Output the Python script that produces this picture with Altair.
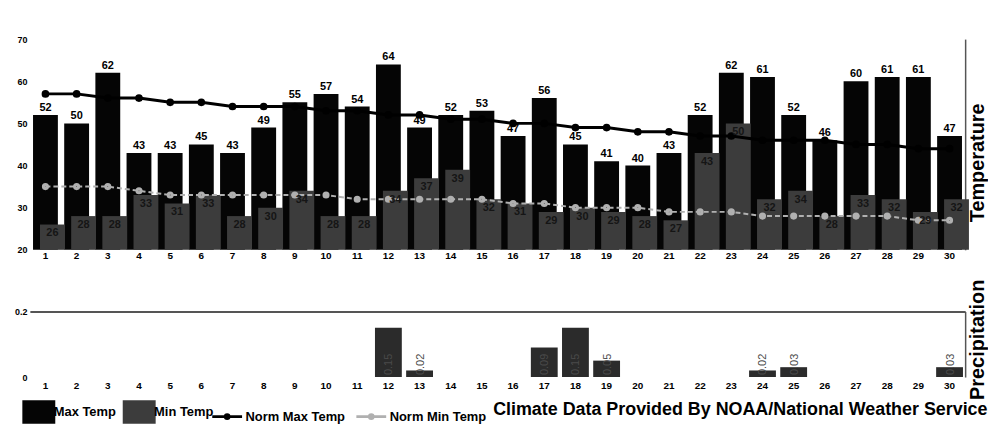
import altair as alt
import pandas as pd

days = list(range(1, 31))
max_temp = [52, 50, 62, 43, 43, 45, 43, 49, 55, 57, 54, 64, 49, 52, 53, 47, 56, 45, 41, 40,
            43, 52, 62, 61, 52, 46, 60, 61, 61, 47]
min_temp = [26, 28, 28, 33, 31, 33, 28, 30, 34, 28, 28, 34, 37, 39, 32, 31, 29, 30, 29, 28,
            27, 43, 50, 32, 34, 28, 33, 32, 29, 32]
norm_max = [57, 57, 56, 56, 55, 55, 54, 54, 54, 53, 53, 52, 52, 51, 51, 50, 50, 49, 49, 48,
            48, 47, 47, 46, 46, 46, 45, 45, 44, 44]
norm_min = [35, 35, 35, 34, 33, 33, 33, 33, 33, 33, 32, 32, 32, 32, 32, 31, 31, 30, 30, 30,
            29, 29, 29, 28, 28, 28, 28, 28, 27, 27]
precip_days = [12, 13, 17, 18, 19, 24, 25, 30]
precip_vals = [0.15, 0.02, 0.09, 0.15, 0.05, 0.02, 0.03, 0.03]

temp_ticks = [20, 30, 40, 50, 60, 70]
precip_ticks = [0, 0.2]
bar_series = ["Max Temp", "Min Temp"]
line_series = ["Norm Max Temp", "Norm Min Temp"]
credit = "Climate Data Provided By NOAA/National Weather Service"

temp_df = pd.DataFrame({"day": days, "max_temp": max_temp, "min_temp": min_temp,
                        "norm_max": norm_max, "norm_min": norm_min})
precip_df = pd.DataFrame({"day": precip_days, "precip": precip_vals})

FONT = "Liberation Sans"
W = 941

x_enc = alt.X("day:O", scale=alt.Scale(domain=days, paddingInner=0, paddingOuter=0),
              axis=alt.Axis(title=None, labelAngle=0, ticks=False, domain=False, labelPadding=1,
                            labelFontSize=10, labelFontWeight="bold", labelColor="#000"))

tscale = alt.Scale(domain=[20, 70], zero=False, nice=False)
left_axis = alt.Axis(orient="left", values=temp_ticks, title=None, ticks=False, domain=False,
                     grid=False, labelFontSize=9, labelFontWeight="bold", labelColor="#000",
                     labelPadding=3, minExtent=18, maxExtent=18)
right_axis = alt.Axis(orient="right", title="Temperature", labels=False, ticks=False, grid=False,
                      domain=True, domainColor="#555", domainWidth=1.5, titleAngle=270,
                      titleBaseline="top", titleFontSize=20, titleFontWeight="bold",
                      titleColor="#000", titlePadding=2, titleY=124, minExtent=0, maxExtent=0)

fill_scale = alt.Scale(domain=bar_series, range=["#050505", "#3c3c3c"])
stroke_scale = alt.Scale(domain=line_series, range=["#000000", "#b0b0b0"])

fill_legend = alt.Legend(orient="none", legendX=-3, legendY=363, direction="horizontal", title=None,
                         symbolType="M-1.4,-1H1.4V1H-1.4Z", symbolSize=560, symbolStrokeWidth=0,
                         labelFontSize=13, labelFontWeight="bold", labelColor="#000",
                         labelOffset=3, columnPadding=6)
stroke_legend = alt.Legend(orient="none", legendX=182, legendY=363, direction="horizontal", title=None,
                           symbolType="M-1,0H1M-0.12,0A0.12,0.12,0,1,1,0.12,0A0.12,0.12,0,1,1,-0.12,0",
                           symbolSize=900, symbolStrokeWidth=3,
                           labelFontSize=13, labelFontWeight="bold", labelColor="#000",
                           labelOffset=2, columnPadding=4)

base = alt.Chart(temp_df)

max_bars = base.transform_calculate(series="'Max Temp'").mark_bar(width=25).encode(
    x=x_enc, y=alt.Y("max_temp:Q", scale=tscale, axis=left_axis), y2=alt.datum(20),
    fill=alt.Fill("series:N", scale=fill_scale, legend=fill_legend))
min_bars = base.transform_calculate(series="'Min Temp'").mark_bar(width=25, xOffset=7).encode(
    x=x_enc, y=alt.Y("min_temp:Q", scale=tscale, axis=None), y2=alt.datum(20),
    fill=alt.Fill("series:N", scale=fill_scale, legend=fill_legend))
nmax_line = base.transform_calculate(series="'Norm Max Temp'").mark_line(strokeWidth=3).encode(
    x=x_enc, y=alt.Y("norm_max:Q", scale=tscale, axis=right_axis),
    stroke=alt.Stroke("series:N", scale=stroke_scale, legend=stroke_legend))
nmax_pts = base.transform_calculate(series="'Norm Max Temp'").mark_point(
    size=14, strokeWidth=4, filled=False, opacity=1).encode(
    x=x_enc, y=alt.Y("norm_max:Q", scale=tscale, axis=None),
    stroke=alt.Stroke("series:N", scale=stroke_scale, legend=stroke_legend))
nmin_line = base.transform_calculate(series="'Norm Min Temp'").mark_line(
    strokeWidth=2, strokeDash=[5, 3]).encode(
    x=x_enc, y=alt.Y("norm_min:Q", scale=tscale, axis=None),
    stroke=alt.Stroke("series:N", scale=stroke_scale, legend=stroke_legend))
nmin_pts = base.transform_calculate(series="'Norm Min Temp'").mark_point(
    size=10, strokeWidth=4, filled=False, opacity=1).encode(
    x=x_enc, y=alt.Y("norm_min:Q", scale=tscale, axis=None),
    stroke=alt.Stroke("series:N", scale=stroke_scale, legend=stroke_legend))
max_labels = base.mark_text(baseline="bottom", dy=-2, fontSize=11, fontWeight="bold",
                            color="#000").encode(
    x=x_enc, y=alt.Y("max_temp:Q", scale=tscale, axis=None), text=alt.Text("max_temp:Q"))
min_labels = base.mark_text(baseline="top", dy=3, dx=7, fontSize=11, fontWeight="bold",
                            color="#151515").encode(
    x=x_enc, y=alt.Y("min_temp:Q", scale=tscale, axis=None), text=alt.Text("min_temp:Q"))

temp = alt.layer(max_bars, min_bars, nmax_line, nmax_pts, nmin_line, nmin_pts,
                 max_labels, min_labels).resolve_axis(y="independent").properties(width=W, height=212)

pscale = alt.Scale(domain=[0, 0.2], nice=False, zero=True)
p_left_axis = alt.Axis(orient="left", values=precip_ticks, format=".1~f", title=None, ticks=False,
                       domain=False, grid=True, gridColor="#555", gridWidth=2,
                       gridOpacity={"condition": {"test": "datum.value === 0", "value": 0}, "value": 1},
                       labelFontSize=9, labelFontWeight="bold", labelColor="#000", labelPadding=3,
                       minExtent=18, maxExtent=18)
p_right_axis = alt.Axis(orient="right", title="Precipitation", labels=False, ticks=False, grid=False,
                        domain=True, domainColor="#555", domainWidth=1.5, titleAngle=270,
                        titleBaseline="top", titleFontSize=20, titleFontWeight="bold",
                        titleColor="#000", titlePadding=2, titleY=28, minExtent=0, maxExtent=0)
x_enc_p = alt.X("day:O", scale=alt.Scale(domain=days, paddingInner=0, paddingOuter=0),
                axis=alt.Axis(title=None, labelAngle=0, ticks=False, domain=False, labelPadding=4,
                              labelFontSize=10, labelFontWeight="bold", labelColor="#000"))

pbase = alt.Chart(precip_df)
p_bars = pbase.mark_bar(width=27, color="#2b2b2b").encode(
    x=x_enc_p, y=alt.Y("precip:Q", scale=pscale, axis=p_left_axis))
p_axis = pbase.mark_bar(width=27, opacity=0).encode(
    x=x_enc_p, y=alt.Y("precip:Q", scale=pscale, axis=p_right_axis))
p_labels = pbase.transform_calculate(base_val="0").mark_text(
    angle=270, align="left", baseline="middle", dx=2, dy=1, fontSize=11, color="#4a4a4a").encode(
    x=x_enc_p, y=alt.Y("base_val:Q", scale=pscale, axis=None),
    text=alt.Text("precip:Q", format=".2f"))

precip = alt.layer(p_bars, p_axis, p_labels).resolve_axis(y="independent").properties(width=W, height=66)

chart = alt.vconcat(
    temp, precip, spacing=62, bounds="flush",
    title=alt.TitleParams(credit, orient="bottom", anchor="end", fontSize=18, fontWeight="bold",
                          font=FONT, color="#000", offset=-24)
).properties(
    padding={"left": 3, "top": 25, "right": 0, "bottom": 2}
).configure(font=FONT).configure_view(stroke="transparent")

chart.save("out.html", embed_options={"renderer": "svg", "actions": False})
